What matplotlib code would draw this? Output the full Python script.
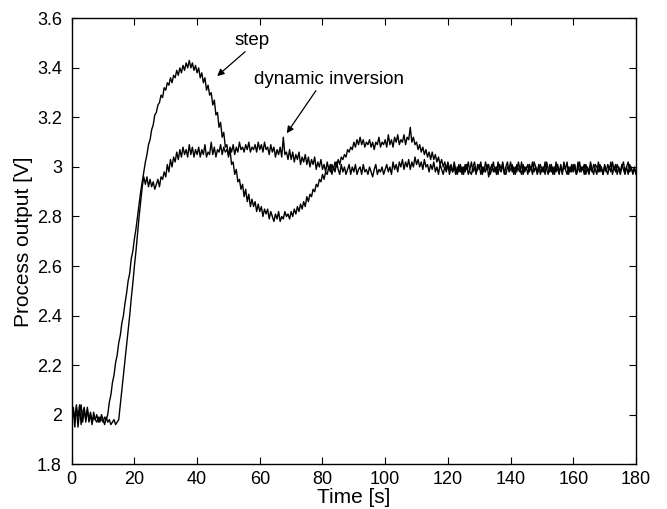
import numpy as np
import matplotlib.pyplot as plt

plt.rcParams['font.family'] = ['Liberation Sans', 'DejaVu Sans']

# sample time: 0.5 s, 0 .. 180 s
time = np.arange(0, 180.5, 0.5)

step = [
    1.97, 2.02, 1.95, 2.03, 1.99, 2.04, 1.96, 2.01, 2.03, 1.97,
    2.02, 1.98, 2.01, 1.97, 1.99, 1.98, 2.00, 1.97, 1.99, 1.98,
    1.97, 1.99, 1.98, 2.00, 2.05, 2.08, 2.13, 2.16, 2.21, 2.24,
    2.29, 2.32, 2.37, 2.40, 2.45, 2.49, 2.54, 2.57, 2.63, 2.66,
    2.71, 2.75, 2.80, 2.85, 2.90, 2.94, 2.98, 3.02, 3.05, 3.09,
    3.11, 3.15, 3.17, 3.21, 3.22, 3.25, 3.26, 3.29, 3.28, 3.32,
    3.31, 3.34, 3.33, 3.36, 3.34, 3.37, 3.36, 3.39, 3.37, 3.40,
    3.38, 3.41, 3.39, 3.42, 3.40, 3.43, 3.40, 3.42, 3.39, 3.41,
    3.38, 3.40, 3.36, 3.38, 3.34, 3.36, 3.31, 3.33, 3.29, 3.30,
    3.25, 3.27, 3.21, 3.22, 3.16, 3.18, 3.12, 3.14, 3.08, 3.09,
    3.04, 3.07, 3.01, 3.02, 2.97, 2.99, 2.94, 2.95, 2.91, 2.93,
    2.88, 2.91, 2.86, 2.89, 2.84, 2.87, 2.84, 2.86, 2.82, 2.85,
    2.82, 2.84, 2.80, 2.83, 2.81, 2.83, 2.79, 2.82, 2.80, 2.78,
    2.81, 2.79, 2.82, 2.78, 2.80, 2.79, 2.82, 2.80, 2.81, 2.79,
    2.82, 2.80, 2.83, 2.81, 2.84, 2.82, 2.85, 2.83, 2.86, 2.84,
    2.88, 2.86, 2.89, 2.88, 2.91, 2.90, 2.93, 2.92, 2.95, 2.94,
    2.97, 2.95, 2.98, 2.97, 3.00, 2.98, 3.01, 2.99, 3.02, 3.00,
    3.03, 3.01, 3.04, 3.03, 3.05, 3.04, 3.07, 3.06, 3.08, 3.07,
    3.10, 3.08, 3.11, 3.09, 3.12, 3.09, 3.11, 3.08, 3.10, 3.09,
    3.11, 3.08, 3.10, 3.07, 3.10, 3.09, 3.12, 3.08, 3.10, 3.09,
    3.11, 3.08, 3.13, 3.09, 3.11, 3.08, 3.12, 3.10, 3.13, 3.09,
    3.11, 3.10, 3.13, 3.09, 3.12, 3.11, 3.16, 3.10, 3.12, 3.09,
    3.10, 3.07, 3.09, 3.06, 3.08, 3.05, 3.07, 3.04, 3.06, 3.03,
    3.06, 3.03, 3.05, 3.02, 3.04, 3.01, 3.03, 3.00, 3.02, 2.99,
    3.02, 2.99, 3.01, 2.98, 3.00, 2.97, 3.00, 2.98, 3.01, 2.97,
    3.00, 2.98, 3.01, 2.97, 2.99, 3.02, 2.98, 3.00, 2.97, 3.01,
    2.99, 3.02, 2.97, 3.00, 2.98, 3.01, 2.96, 2.99, 3.01, 2.98,
    3.00, 2.97, 3.02, 2.99, 2.98, 3.01, 2.97, 3.00, 3.02, 2.98,
    2.99, 3.01, 2.97, 3.00, 2.98, 3.02, 2.99, 2.97, 3.01, 2.98,
    3.00, 2.97, 3.01, 2.99, 3.02, 2.98, 3.00, 2.97, 2.99, 3.01,
    2.98, 3.00, 2.97, 3.02, 2.99, 2.98, 3.01, 2.97, 3.00, 2.98,
    3.01, 2.98, 3.00, 2.97, 3.02, 2.99, 2.97, 3.00, 2.98, 3.01,
    2.98, 3.01, 2.97, 2.99, 3.02, 2.98, 3.00, 2.97, 3.01, 2.99,
    2.97, 3.00, 2.98, 3.01, 2.99, 2.97, 3.02, 2.98, 3.00, 2.97,
    3.01, 2.99, 2.97, 3.00, 2.98, 3.02, 2.99, 3.01, 2.97, 3.00,
    2.98, 3.01, 2.99, 2.97, 3.00, 3.02, 2.98, 3.00, 2.97, 2.99,
    2.98,
]

dyn_inv = [
    1.96, 2.03, 1.98, 2.04, 1.95, 2.01, 2.04, 1.97, 2.02, 1.98,
    2.03, 1.97, 2.00, 1.96, 2.01, 1.98, 1.97, 1.99, 1.97, 2.00,
    1.98, 1.96, 1.99, 1.97, 1.98, 1.96, 1.97, 1.98, 1.96, 1.97,
    1.98, 2.04, 2.10, 2.16, 2.22, 2.28, 2.34, 2.40, 2.47, 2.53,
    2.60, 2.66, 2.73, 2.80, 2.86, 2.92, 2.96, 2.93, 2.96, 2.92,
    2.95, 2.92, 2.94, 2.91, 2.93, 2.95, 2.92, 2.96, 2.95, 2.98,
    2.96, 3.01, 2.98, 3.03, 3.00, 3.04, 3.02, 3.06, 3.03, 3.07,
    3.04, 3.08, 3.05, 3.07, 3.04, 3.09, 3.05, 3.08, 3.04, 3.07,
    3.05, 3.08, 3.04, 3.07, 3.05, 3.09, 3.04, 3.06, 3.05, 3.10,
    3.05, 3.08, 3.04, 3.07, 3.06, 3.09, 3.05, 3.08, 3.06, 3.07,
    3.05, 3.08, 3.06, 3.09, 3.05, 3.08, 3.06, 3.10, 3.07, 3.08,
    3.06, 3.09, 3.07, 3.10, 3.06, 3.08, 3.07, 3.09, 3.06, 3.10,
    3.07, 3.09, 3.06, 3.10, 3.07, 3.08, 3.05, 3.09, 3.06, 3.08,
    3.04, 3.07, 3.05, 3.08, 3.04, 3.12, 3.05, 3.06, 3.03, 3.07,
    3.03, 3.06, 3.02, 3.05, 3.03, 3.06, 3.01, 3.04, 3.02, 3.05,
    3.01, 3.04, 3.00, 3.03, 3.01, 3.04, 2.99, 3.02, 3.00, 3.03,
    2.99, 3.01, 2.98, 3.02, 2.99, 3.01, 2.97, 3.00, 2.98, 3.02,
    2.99, 2.97, 3.01, 2.98, 3.00, 2.97, 2.99, 3.01, 2.97, 3.00,
    2.98, 3.01, 2.97, 2.99, 3.00, 2.97, 3.01, 2.98, 2.99, 2.97,
    3.00, 2.98, 2.96, 2.99, 3.01, 2.97, 2.99, 2.98, 3.00, 2.97,
    2.99, 3.01, 2.98, 3.00, 2.97, 3.02, 2.99, 3.01, 2.98, 3.02,
    3.00, 3.03, 2.99, 3.02, 3.00, 3.03, 2.99, 3.02, 3.00, 3.04,
    3.01, 3.03, 3.00, 3.02, 2.99, 3.03, 3.00, 3.01, 2.98, 3.01,
    2.99, 3.02, 2.98, 3.00, 2.97, 3.01, 2.99, 2.97, 3.00, 2.98,
    3.01, 2.97, 3.00, 2.98, 3.02, 2.99, 2.97, 3.01, 2.98, 3.00,
    2.97, 3.01, 2.99, 3.02, 2.98, 2.97, 3.00, 3.02, 2.98, 2.99,
    3.01, 2.97, 3.00, 2.98, 3.02, 2.99, 3.01, 2.97, 2.99, 3.02,
    2.98, 3.00, 2.97, 3.01, 2.99, 3.02, 2.98, 2.97, 3.00, 2.99,
    3.02, 2.98, 3.00, 2.97, 3.01, 2.99, 2.98, 3.02, 2.97, 3.00,
    2.99, 3.01, 2.98, 3.00, 2.97, 3.02, 3.00, 2.98, 3.01, 2.97,
    3.00, 2.98, 3.02, 2.99, 2.97, 3.01, 2.98, 3.00, 2.97, 3.02,
    2.99, 2.97, 3.01, 2.98, 3.00, 2.99, 3.02, 2.97, 3.00, 2.98,
    3.01, 2.99, 2.97, 3.02, 2.98, 3.00, 2.99, 3.01, 2.97, 3.00,
    2.98, 3.02, 2.99, 2.97, 3.01, 3.00, 2.98, 3.01, 2.99, 2.97,
    3.00, 2.98, 3.01, 2.99, 3.02, 2.97, 3.00, 2.98, 3.01, 2.99,
    2.97, 3.00, 3.02, 2.98, 3.00, 2.97, 3.01, 2.99, 2.98, 3.00,
    2.97,
]

fig = plt.figure(figsize=(6.67, 5.09), dpi=100)
ax = fig.add_axes([0.1075, 0.088, 0.846, 0.876])

ax.plot(time, step, color='black', linewidth=1.0)
ax.plot(time, dyn_inv, color='black', linewidth=1.0)

ax.set_xlim(0, 180)
ax.set_ylim(1.8, 3.6)
ax.set_xticks(np.arange(0, 181, 20))
ax.set_yticks(np.arange(1.8, 3.61, 0.2))
ax.set_yticklabels(['1.8', '2', '2.2', '2.4', '2.6', '2.8', '3', '3.2', '3.4', '3.6'])
ax.tick_params(direction='in', top=True, right=True, labelsize=13, length=5)
ax.tick_params(axis='x', pad=5)
ax.tick_params(axis='y', pad=7)
for sp in ax.spines.values():
    sp.set_linewidth(1.0)

ax.set_xlabel('Time [s]', fontsize=15, labelpad=0)
ax.set_ylabel('Process output [V]', fontsize=15, labelpad=3)

arrow = dict(arrowstyle='-|>', color='black', lw=0.9, mutation_scale=10, shrinkA=0, shrinkB=0)
ax.text(57.5, 3.512, 'step', fontsize=13.5, ha='center', va='center')
ax.annotate('', xy=(46.4, 3.367), xytext=(55.3, 3.465), arrowprops=arrow)
ax.text(82.1, 3.353, 'dynamic inversion', fontsize=13.5, ha='center', va='center')
ax.annotate('', xy=(68.6, 3.136), xytext=(77.9, 3.308), arrowprops=arrow)

fig.savefig('out.png', dpi=100)
